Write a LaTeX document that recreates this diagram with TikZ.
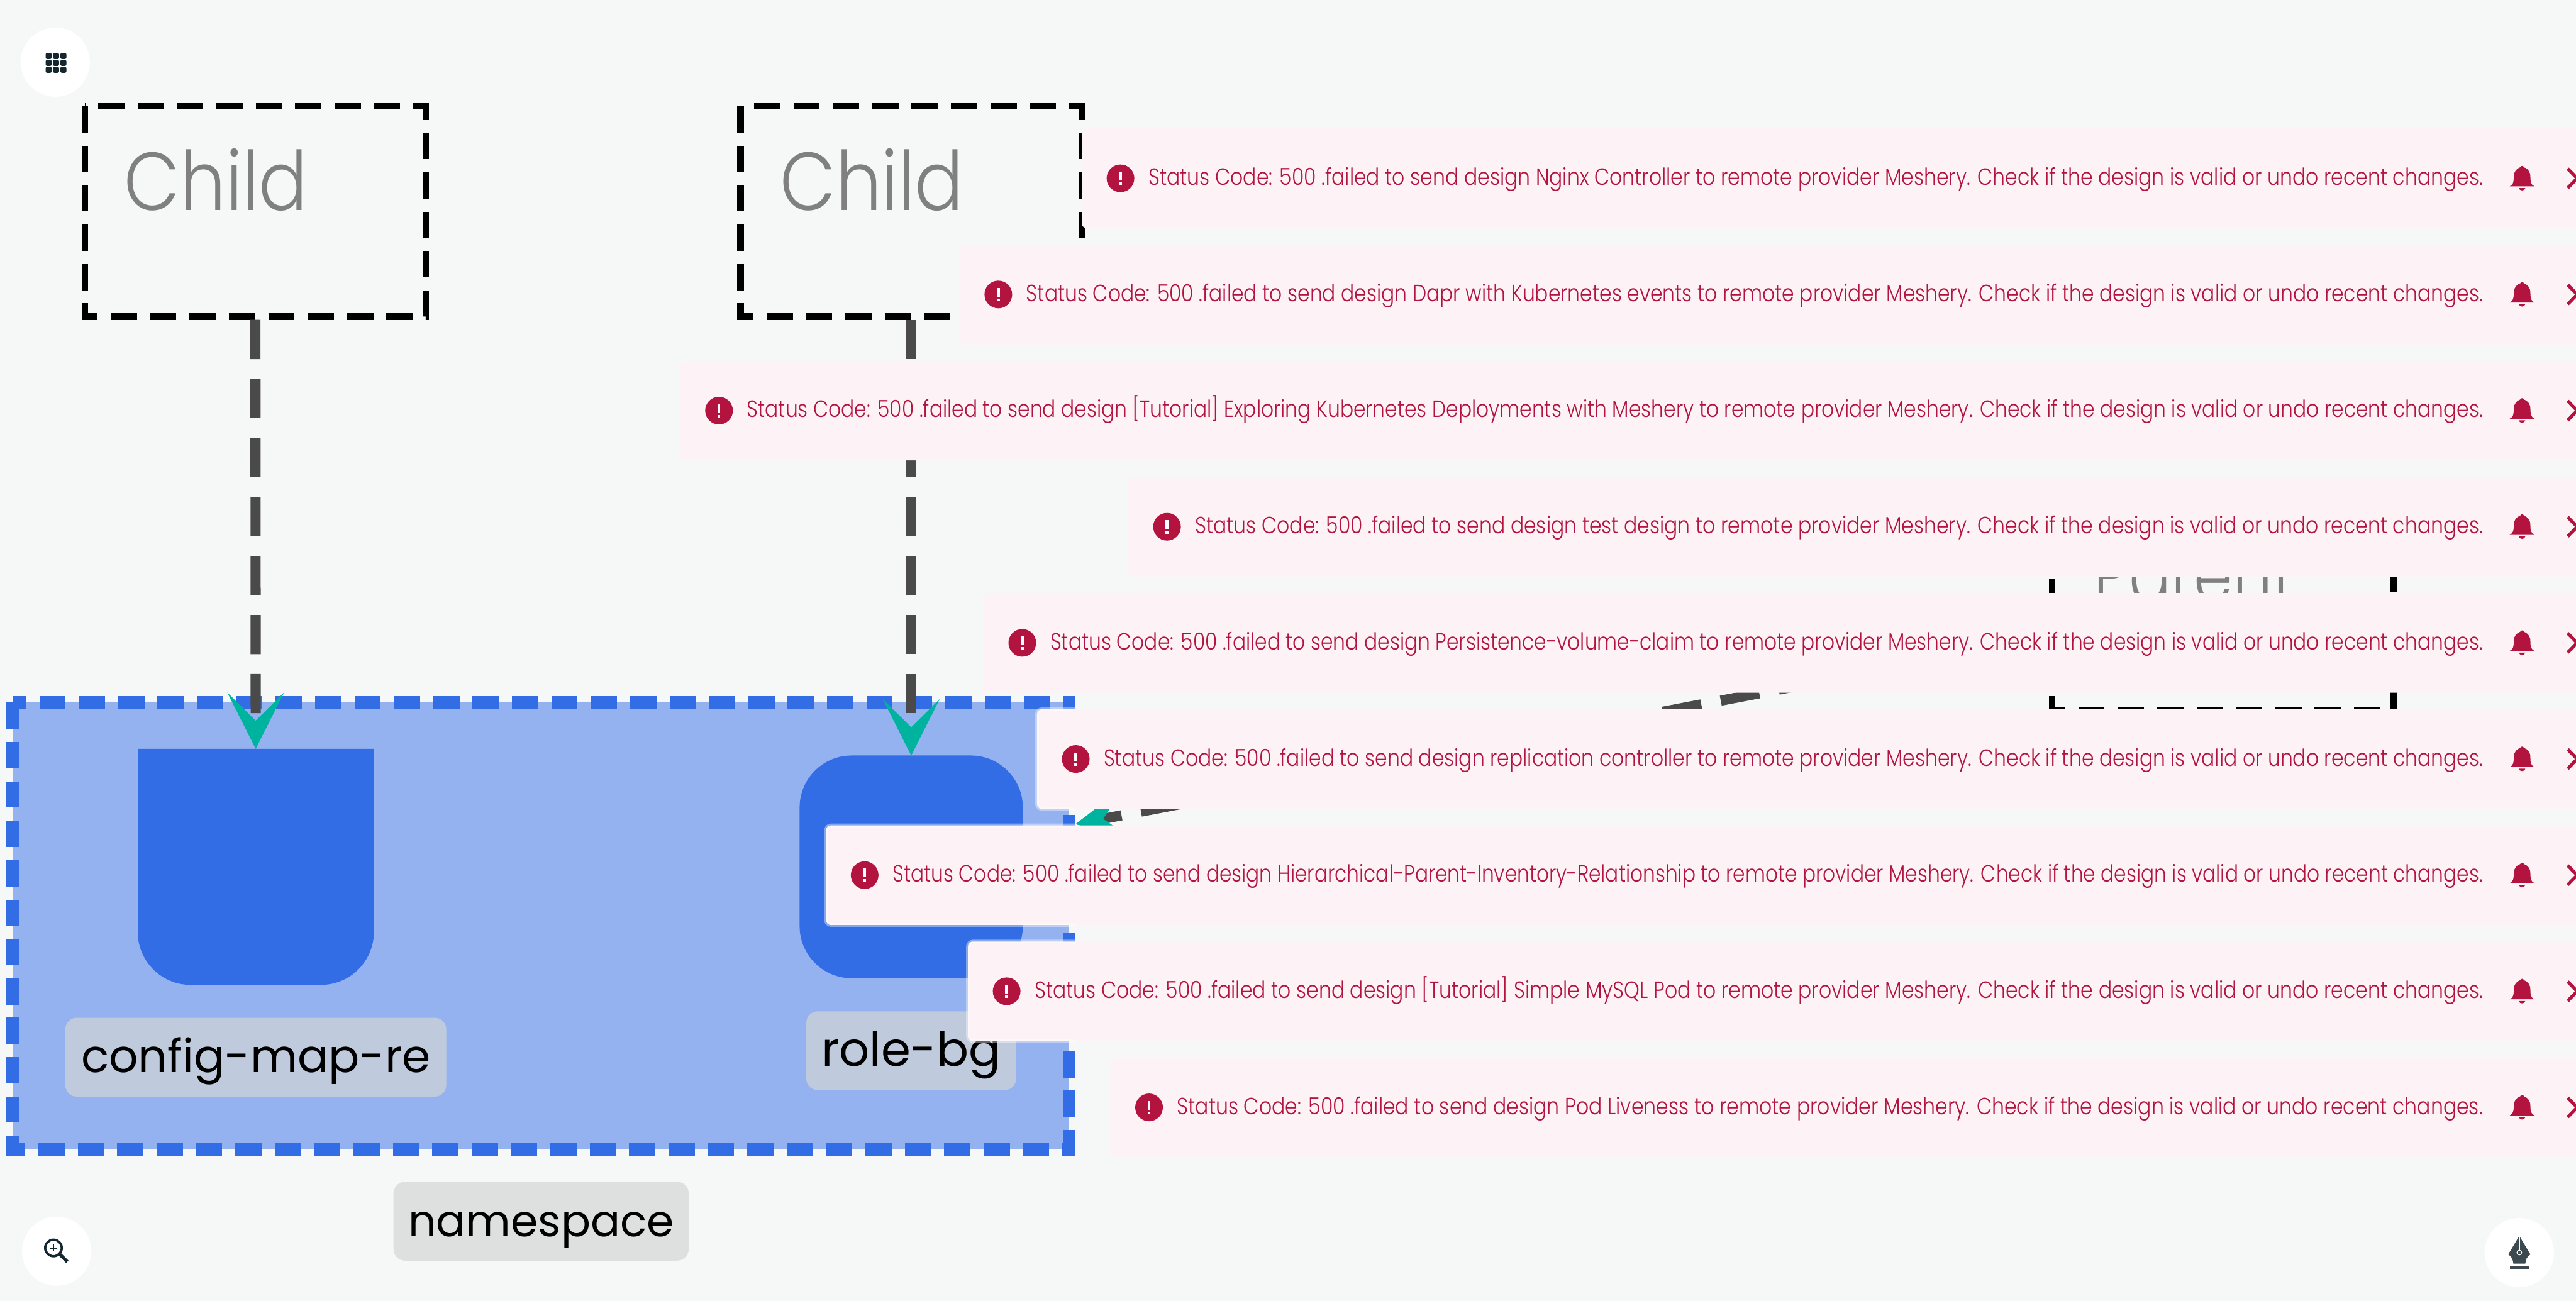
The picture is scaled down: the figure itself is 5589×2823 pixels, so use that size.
\documentclass[tikz,border=0pt]{standalone}
\usepackage{fontspec}
\usepackage{graphicx}
\usepackage{xcolor}
\usetikzlibrary{arrows.meta}
\newfontfamily\toastfont[FakeStretch=0.84]{Poppins Light}
\newfontfamily\childfont[FakeStretch=0.88]{Poppins Light}
\newfontfamily\labelfont{Poppins}
\definecolor{canvasbg}{HTML}{F6F8F7}
\definecolor{nsfill}{HTML}{94B2F0}
\definecolor{meshblue}{HTML}{336DE6}
\definecolor{meshteal}{HTML}{00B39F}
\definecolor{linkgray}{HTML}{4A4A4A}
\definecolor{toastbg}{HTML}{FDF3F6}
\definecolor{toastred}{HTML}{B3143F}
\definecolor{icondark}{HTML}{14262E}
\definecolor{nibdark}{HTML}{3C494F}
\definecolor{innerlabel}{HTML}{BFCBDD}
\definecolor{outerlabel}{HTML}{DEE0DF}
\tikzset{
  childbox/.style={minimum width=7.40cm,minimum height=4.56cm,inner sep=0pt,outer sep=0pt},
  childedge/.style={draw=black,line width=0.14cm,dash pattern=on 0.57cm off 0.284cm},
  childtext/.style={anchor=base west,inner sep=0pt,text=gray,font=\childfont\fontsize{50.7pt}{60pt}\selectfont},
  nsedge/.style={draw=meshblue,line width=0.28cm,dash pattern=on 0.57cm off 0.284cm},
  namelabel/.style={fill=#1,rounded corners=0.25cm,inner sep=0pt,minimum height=1.71cm,text height=0.9cm,text depth=0.24cm,text=black,font=\labelfont\fontsize{28.3pt}{34pt}\selectfont},
  linkline/.style={draw=linkgray,line width=0.22cm,dash pattern=on 0.85cm off 0.43cm,shorten <=0.07cm,
    -{Stealth[length=1.22cm,width=1.23cm,inset=0.61cm,line width=0pt,color=meshteal]}},
  toastbox/.style={anchor=north west,fill=toastbg,rounded corners=0.11cm,minimum height=2.16cm,inner sep=0pt,outer sep=0pt},
  toastglow/.style={draw=white,draw opacity=0.4,line width=0.08cm,rounded corners=0.11cm},
  toastmsg/.style={anchor=base west,inner sep=0pt,text=toastred,font=\toastfont\fontsize{14.5pt}{17pt}\selectfont},
  roundbtn/.style={circle,fill=white,minimum size=1.5cm,inner sep=0pt}
}
\newcommand{\edgebox}[2]{\draw[#1] (#2.north west) -- (#2.south west) -- (#2.south east) -- (#2.north east) -- cycle;}
\begin{document}
\begin{tikzpicture}[x=0.01cm,y=-0.01cm]
  \useasboundingbox (0,0) rectangle (5589,2823);
  \fill[canvasbg] (0,0) rectangle (5589,2823);

  \node[fill=nsfill,minimum width=22.91cm,minimum height=9.69cm,inner sep=0pt,outer sep=0pt] (ns) at (1173.5,2009.5) {};
  \edgebox{nsedge}{ns}

  \node[minimum width=5.12cm,minimum height=5.12cm,inner sep=0pt,outer sep=0pt] (cfg) at (555,1881) {};
  \fill[meshblue] (cfg.north west) -- (cfg.north east) [rounded corners=1.15cm] -- (cfg.south east) -- (cfg.south west) [sharp corners] -- cycle;
  \node[fill=meshblue,rounded corners=1.13cm,minimum width=4.84cm,minimum height=4.83cm,inner sep=0pt,outer sep=0pt] (role) at (1977,1881) {};

  \node[namelabel=innerlabel,minimum width=8.26cm] (cfglabel) at (555,2294) {config-map-re};
  \node[namelabel=innerlabel,minimum width=4.55cm,font=\labelfont\fontsize{29.3pt}{34pt}\selectfont] (rolelabel) at (1977,2280) {role-bg};
  \node[namelabel=outerlabel,minimum width=6.40cm,font=\labelfont\fontsize{27pt}{32pt}\selectfont] (nslabel) at (1174,2650) {namespace};

  \node[childbox] (childa) at (554,459) {};
  \node[childbox] (childb) at (1977,459) {};
  \node[childbox] (parentbox) at (4823,1312) {};
  \foreach \b in {childa,childb,parentbox}{\edgebox{childedge}{\b}}
  \node[childtext] (childatext) at (269,456) {Child};
  \node[childtext] (childbtext) at (1692,456) {Child};
  \node[childtext] (parenttext) at (4542,1309) {\resizebox{4.36cm}{\height}{Parent}};

  \draw[linkline] (childa) -- (cfg);
  \draw[linkline] (childb) -- (role);
  \draw[linkline,shorten >=0.14cm] (parentbox) -- (ns);

  \foreach \n/\tx/\what in {1/2347/{Nginx Controller},2/2082/{Dapr with Kubernetes events},
      3/1476/{[Tutorial] Exploring Kubernetes Deployments with Meshery},4/2448/{test design},
      5/2134/{Persistence-volume-claim},6/2250/{replication controller},
      7/1792/{Hierarchical-Parent-Inventory-Relationship},8/2100/{[Tutorial] Simple MySQL Pod},9/2409/{Pod Liveness}}{
    \pgfmathsetmacro{\ty}{279+252*(\n-1)}
    \pgfmathsetlengthmacro{\tw}{(5386-\tx-144)*0.01cm}
    \node[toastbox,minimum width={(5700-\tx)*0.01cm}] (toast\n) at (\tx,\ty) {};
    \begin{scope}
      \clip (ns.north west) ++(-14,-14) rectangle ([shift={(14,14)}]ns.south east);
      \draw[toastglow] (toast\n.north west) rectangle (toast\n.south east);
    \end{scope}
    \node[toastmsg] (msg\n) at (\tx+144,\ty+123) {\resizebox{\tw}{\height}{Status Code: 500 .failed to send design \what\ to remote provider Meshery. Check if the design is valid or undo recent changes.}};
    \begin{scope}[shift={(\tx+84,\ty+108)}]
      \fill[toastred] (0,0) circle (0.30cm);
      \fill[white] (-3,-14) rectangle (3,5);
      \fill[white] (-3,9) rectangle (3,15);
    \end{scope}
    \begin{scope}[shift={(5472,\ty+108)}]
      \fill[toastred] (-27,17.5) .. controls (-19,14) and (-18,8) .. (-18,-4) .. controls (-18,-15) and (-11,-22) .. (-4,-24)
        .. controls (-3,-28) and (3,-28) .. (4,-24) .. controls (11,-22) and (18,-15) .. (18,-4)
        .. controls (18,8) and (19,14) .. (27,17.5) -- cycle;
      \fill[toastred] (-7,21) -- (7,21) .. controls (6,28) and (-6,28) .. (-7,21) -- cycle;
    \end{scope}
    \draw[toastred,line width=0.07cm] (5571,\ty+87) -- (5612,\ty+129);
    \draw[toastred,line width=0.07cm] (5571,\ty+129) -- (5612,\ty+87);
  }

  \node[roundbtn] (gridbtn) at (120,135) {};
  \foreach \gx in {105.5,121.5,137.5}{
    \foreach \gy in {121.5,136.5,151.5}{
      \fill[icondark,rounded corners=0.03cm] (\gx-6.5,\gy-6.5) rectangle (\gx+6.5,\gy+6.5);
    }
  }
  \node[roundbtn] (zoombtn) at (123,2715) {};
  \draw[icondark,line width=0.05cm] (116,2708) circle (0.18cm);
  \draw[icondark,line width=0.07cm] (130,2722) -- (146,2738);
  \draw[icondark,line width=0.03cm] (108,2708) -- (124,2708) (116,2700) -- (116,2716);
  \node[roundbtn] (penbtn) at (5466,2718) {};
  \fill[nibdark] (5466,2682) -- (5490,2722) .. controls (5481,2728) and (5480,2734) .. (5479,2742) -- (5453,2742)
    .. controls (5452,2734) and (5451,2728) .. (5442,2722) -- cycle;
  \fill[nibdark] (5446,2747) rectangle (5486,2753);
  \draw[white,line width=0.02cm] (5466,2682) -- (5466,2713);
  \draw[white,fill=nibdark,line width=0.02cm] (5466,2718) circle (0.05cm);
\end{tikzpicture}
\end{document}
